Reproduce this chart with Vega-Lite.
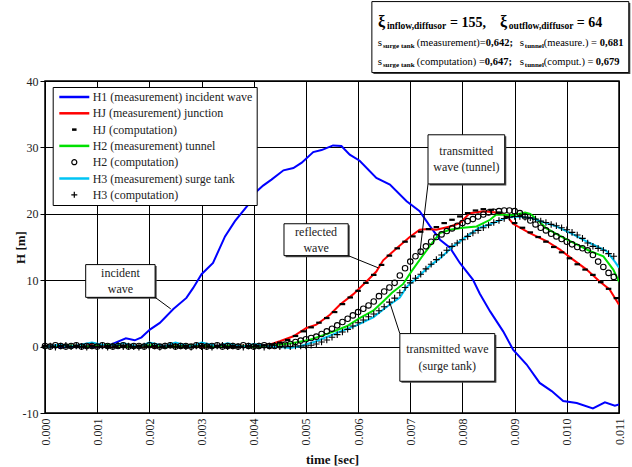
{
"$schema":"https://vega.github.io/schema/vega-lite/v6.json",
"width":574,"height":332,
"autosize":{"type":"none"},
"padding":{"left":45,"top":81,"right":13,"bottom":54},
"background":"white",
"config":{
 "view":{"stroke":"black","strokeWidth":1.5},
 "font":"Liberation Serif",
 "axis":{"labelFont":"Liberation Serif","titleFont":"Liberation Serif","labelColor":"#222","titleColor":"#111","titleFontWeight":"bold","gridColor":"#000","gridOpacity":1,"gridWidth":1,"domain":false,"tickColor":"#000"},
 "text":{"font":"Liberation Serif"}
},
"datasets":{"d":[
{"s":"H1m","t":0,"h":0.1},{"s":"H1m","t":0.0002,"h":-0.1},{"s":"H1m","t":0.0004,"h":0.1},{"s":"H1m","t":0.0006,"h":0},{"s":"H1m","t":0.0008,"h":0.1},{"s":"H1m","t":0.001,"h":0},{"s":"H1m","t":0.0012,"h":0.1},{"s":"H1m","t":0.00134,"h":0.55},{"s":"H1m","t":0.00155,"h":1.25},{"s":"H1m","t":0.00172,"h":0.95},{"s":"H1m","t":0.00185,"h":1.4},{"s":"H1m","t":0.00201,"h":2.56},{"s":"H1m","t":0.0022,"h":3.57},{"s":"H1m","t":0.00246,"h":5.67},{"s":"H1m","t":0.00271,"h":7.33},{"s":"H1m","t":0.00284,"h":8.84},{"s":"H1m","t":0.003,"h":10.9},{"s":"H1m","t":0.00322,"h":12.6},{"s":"H1m","t":0.00345,"h":16.6},{"s":"H1m","t":0.00364,"h":18.9},{"s":"H1m","t":0.0039,"h":21.4},{"s":"H1m","t":0.00406,"h":23.4},{"s":"H1m","t":0.00418,"h":24.25},{"s":"H1m","t":0.00434,"h":25.15},{"s":"H1m","t":0.00457,"h":26.55},{"s":"H1m","t":0.00476,"h":26.9},{"s":"H1m","t":0.00492,"h":27.7},{"s":"H1m","t":0.00514,"h":29.3},{"s":"H1m","t":0.0053,"h":29.6},{"s":"H1m","t":0.00552,"h":30.3},{"s":"H1m","t":0.00568,"h":30.2},{"s":"H1m","t":0.00584,"h":28.9},{"s":"H1m","t":0.00603,"h":28.0},{"s":"H1m","t":0.00635,"h":25.4},{"s":"H1m","t":0.00661,"h":24.4},{"s":"H1m","t":0.00693,"h":21.9},{"s":"H1m","t":0.00718,"h":20.4},{"s":"H1m","t":0.00738,"h":18.1},{"s":"H1m","t":0.00757,"h":16.1},{"s":"H1m","t":0.00776,"h":14.9},{"s":"H1m","t":0.00795,"h":12.6},{"s":"H1m","t":0.0082,"h":10.1},{"s":"H1m","t":0.00833,"h":8.0},{"s":"H1m","t":0.00853,"h":5.3},{"s":"H1m","t":0.00878,"h":2.3},{"s":"H1m","t":0.00897,"h":-0.45},{"s":"H1m","t":0.00923,"h":-2.7},{"s":"H1m","t":0.00948,"h":-5.47},{"s":"H1m","t":0.00971,"h":-6.7},{"s":"H1m","t":0.00993,"h":-8.2},{"s":"H1m","t":0.01019,"h":-8.5},{"s":"H1m","t":0.0105,"h":-9.3},{"s":"H1m","t":0.01073,"h":-8.4},{"s":"H1m","t":0.01092,"h":-8.9},{"s":"H1m","t":0.011,"h":-8.7},
{"s":"HJm","t":0,"h":0},{"s":"HJm","t":0.0003,"h":0.3},{"s":"HJm","t":0.0005,"h":0.1},{"s":"HJm","t":0.0008,"h":0.4},{"s":"HJm","t":0.001,"h":0},{"s":"HJm","t":0.0015,"h":0.2},{"s":"HJm","t":0.002,"h":0},{"s":"HJm","t":0.0025,"h":0.2},{"s":"HJm","t":0.003,"h":0},{"s":"HJm","t":0.0035,"h":0.2},{"s":"HJm","t":0.004,"h":0.1},{"s":"HJm","t":0.0043,"h":0.3},{"s":"HJm","t":0.0045,"h":0.8},{"s":"HJm","t":0.00476,"h":1.55},{"s":"HJm","t":0.00501,"h":2.8},{"s":"HJm","t":0.0052,"h":3.3},{"s":"HJm","t":0.00546,"h":4.8},{"s":"HJm","t":0.00565,"h":6.3},{"s":"HJm","t":0.00591,"h":7.9},{"s":"HJm","t":0.00616,"h":9.8},{"s":"HJm","t":0.00635,"h":11.3},{"s":"HJm","t":0.00648,"h":13.0},{"s":"HJm","t":0.00674,"h":14.8},{"s":"HJm","t":0.00699,"h":16.5},{"s":"HJm","t":0.00718,"h":17.6},{"s":"HJm","t":0.00734,"h":17.7},{"s":"HJm","t":0.0075,"h":17.6},{"s":"HJm","t":0.00776,"h":18.1},{"s":"HJm","t":0.00795,"h":18.6},{"s":"HJm","t":0.00814,"h":20.1},{"s":"HJm","t":0.0084,"h":20.4},{"s":"HJm","t":0.00865,"h":20.2},{"s":"HJm","t":0.00884,"h":19.8},{"s":"HJm","t":0.00897,"h":18.5},{"s":"HJm","t":0.00929,"h":17.1},{"s":"HJm","t":0.00961,"h":15.9},{"s":"HJm","t":0.00987,"h":14.6},{"s":"HJm","t":0.01012,"h":13.1},{"s":"HJm","t":0.01038,"h":11.6},{"s":"HJm","t":0.01063,"h":9.8},{"s":"HJm","t":0.01082,"h":8.6},{"s":"HJm","t":0.011,"h":6.3},
{"s":"H2m","t":0,"h":0},{"s":"H2m","t":0.0004,"h":0.2},{"s":"H2m","t":0.0008,"h":0},{"s":"H2m","t":0.0012,"h":0.3},{"s":"H2m","t":0.0016,"h":0},{"s":"H2m","t":0.002,"h":0.2},{"s":"H2m","t":0.0024,"h":0},{"s":"H2m","t":0.0028,"h":0.2},{"s":"H2m","t":0.0032,"h":0},{"s":"H2m","t":0.0036,"h":0.2},{"s":"H2m","t":0.004,"h":0},{"s":"H2m","t":0.0044,"h":0.2},{"s":"H2m","t":0.00476,"h":0.55},{"s":"H2m","t":0.00508,"h":1.05},{"s":"H2m","t":0.00546,"h":2.06},{"s":"H2m","t":0.00578,"h":3.06},{"s":"H2m","t":0.00603,"h":4.3},{"s":"H2m","t":0.00629,"h":5.4},{"s":"H2m","t":0.00648,"h":6.8},{"s":"H2m","t":0.00665,"h":8.1},{"s":"H2m","t":0.00686,"h":9.4},{"s":"H2m","t":0.00703,"h":11.4},{"s":"H2m","t":0.00722,"h":13.5},{"s":"H2m","t":0.00738,"h":15.2},{"s":"H2m","t":0.00757,"h":17.1},{"s":"H2m","t":0.00776,"h":17.6},{"s":"H2m","t":0.00801,"h":17.9},{"s":"H2m","t":0.00827,"h":18.1},{"s":"H2m","t":0.00853,"h":19.1},{"s":"H2m","t":0.00865,"h":19.9},{"s":"H2m","t":0.00897,"h":19.8},{"s":"H2m","t":0.0092,"h":20.2},{"s":"H2m","t":0.0093,"h":20.0},{"s":"H2m","t":0.0095,"h":18.6},{"s":"H2m","t":0.00961,"h":17.8},{"s":"H2m","t":0.00993,"h":16.4},{"s":"H2m","t":0.01019,"h":15.4},{"s":"H2m","t":0.01044,"h":14.4},{"s":"H2m","t":0.0107,"h":13.6},{"s":"H2m","t":0.01089,"h":11.6},{"s":"H2m","t":0.011,"h":9.8},
{"s":"H3m","t":0,"h":0},{"s":"H3m","t":0.0003,"h":0.3},{"s":"H3m","t":0.0005,"h":0},{"s":"H3m","t":0.0009,"h":0.6},{"s":"H3m","t":0.0012,"h":0.1},{"s":"H3m","t":0.0015,"h":0.5},{"s":"H3m","t":0.0018,"h":0},{"s":"H3m","t":0.002,"h":0.6},{"s":"H3m","t":0.0023,"h":0.1},{"s":"H3m","t":0.0025,"h":0.6},{"s":"H3m","t":0.0028,"h":0},{"s":"H3m","t":0.003,"h":0.6},{"s":"H3m","t":0.0033,"h":0.1},{"s":"H3m","t":0.0035,"h":0.5},{"s":"H3m","t":0.0038,"h":0},{"s":"H3m","t":0.004,"h":0.4},{"s":"H3m","t":0.0043,"h":0.1},{"s":"H3m","t":0.0047,"h":-0.2},{"s":"H3m","t":0.0049,"h":0.1},{"s":"H3m","t":0.0052,"h":0.8},{"s":"H3m","t":0.00559,"h":2.06},{"s":"H3m","t":0.00597,"h":3.2},{"s":"H3m","t":0.00629,"h":4.4},{"s":"H3m","t":0.00655,"h":6.0},{"s":"H3m","t":0.0068,"h":7.4},{"s":"H3m","t":0.00693,"h":9.0},{"s":"H3m","t":0.00712,"h":10.3},{"s":"H3m","t":0.00738,"h":12.2},{"s":"H3m","t":0.0076,"h":13.5},{"s":"H3m","t":0.00782,"h":15.1},{"s":"H3m","t":0.00808,"h":16.6},{"s":"H3m","t":0.00833,"h":17.9},{"s":"H3m","t":0.00859,"h":18.6},{"s":"H3m","t":0.00884,"h":19.4},{"s":"H3m","t":0.0091,"h":19.6},{"s":"H3m","t":0.00935,"h":19.3},{"s":"H3m","t":0.0096,"h":18.6},{"s":"H3m","t":0.0098,"h":18.1},{"s":"H3m","t":0.01012,"h":16.9},{"s":"H3m","t":0.01044,"h":15.6},{"s":"H3m","t":0.01076,"h":14.4},{"s":"H3m","t":0.01092,"h":12.8},{"s":"H3m","t":0.011,"h":11.9},
{"s":"HJc","t":0,"h":0.1},{"s":"HJc","t":0.00015,"h":0},{"s":"HJc","t":0.0003,"h":0.1},{"s":"HJc","t":0.00045,"h":0},{"s":"HJc","t":0.0006,"h":0.1},{"s":"HJc","t":0.00075,"h":0},{"s":"HJc","t":0.0009,"h":0.1},{"s":"HJc","t":0.00105,"h":0},{"s":"HJc","t":0.0012,"h":0.1},{"s":"HJc","t":0.00135,"h":0},{"s":"HJc","t":0.0015,"h":0.1},{"s":"HJc","t":0.00165,"h":0},{"s":"HJc","t":0.0018,"h":0.1},{"s":"HJc","t":0.00195,"h":0},{"s":"HJc","t":0.0021,"h":0.1},{"s":"HJc","t":0.00225,"h":0},{"s":"HJc","t":0.0024,"h":0.1},{"s":"HJc","t":0.00255,"h":0},{"s":"HJc","t":0.0027,"h":0.1},{"s":"HJc","t":0.00285,"h":0},{"s":"HJc","t":0.003,"h":0.1},{"s":"HJc","t":0.00315,"h":0},{"s":"HJc","t":0.0033,"h":0.1},{"s":"HJc","t":0.00345,"h":0},{"s":"HJc","t":0.0036,"h":0.1},{"s":"HJc","t":0.00375,"h":0},{"s":"HJc","t":0.0039,"h":0.1},{"s":"HJc","t":0.00405,"h":0.1},{"s":"HJc","t":0.0042,"h":0.2},{"s":"HJc","t":0.00435,"h":0.3},{"s":"HJc","t":0.0045,"h":0.6},{"s":"HJc","t":0.00465,"h":1.0},{"s":"HJc","t":0.0048,"h":1.6},{"s":"HJc","t":0.00495,"h":2.3},{"s":"HJc","t":0.0051,"h":2.9},{"s":"HJc","t":0.00525,"h":3.6},{"s":"HJc","t":0.0054,"h":4.3},{"s":"HJc","t":0.00555,"h":5.2},{"s":"HJc","t":0.0057,"h":6.4},{"s":"HJc","t":0.00585,"h":7.4},{"s":"HJc","t":0.006,"h":8.4},{"s":"HJc","t":0.00615,"h":9.6},{"s":"HJc","t":0.0063,"h":10.8},{"s":"HJc","t":0.00645,"h":12.3},{"s":"HJc","t":0.0066,"h":13.7},{"s":"HJc","t":0.00675,"h":14.8},{"s":"HJc","t":0.0069,"h":15.8},{"s":"HJc","t":0.00705,"h":16.6},{"s":"HJc","t":0.0072,"h":17.3},{"s":"HJc","t":0.00735,"h":17.7},{"s":"HJc","t":0.0075,"h":18.0},{"s":"HJc","t":0.00765,"h":18.6},{"s":"HJc","t":0.0078,"h":19.1},{"s":"HJc","t":0.00795,"h":19.6},{"s":"HJc","t":0.0081,"h":20.1},{"s":"HJc","t":0.00825,"h":20.5},{"s":"HJc","t":0.0084,"h":20.7},{"s":"HJc","t":0.00855,"h":20.6},{"s":"HJc","t":0.0087,"h":20.2},{"s":"HJc","t":0.00885,"h":19.5},{"s":"HJc","t":0.009,"h":18.6},{"s":"HJc","t":0.00915,"h":17.9},{"s":"HJc","t":0.0093,"h":17.2},{"s":"HJc","t":0.00945,"h":16.5},{"s":"HJc","t":0.0096,"h":15.8},{"s":"HJc","t":0.00975,"h":15.0},{"s":"HJc","t":0.0099,"h":14.2},{"s":"HJc","t":0.01005,"h":13.3},{"s":"HJc","t":0.0102,"h":12.4},{"s":"HJc","t":0.01035,"h":11.6},{"s":"HJc","t":0.0105,"h":10.8},{"s":"HJc","t":0.01065,"h":9.7},{"s":"HJc","t":0.0108,"h":8.7},{"s":"HJc","t":0.01095,"h":7.3},
{"s":"H2c","t":0,"h":0.1},{"s":"H2c","t":0.0001,"h":0},{"s":"H2c","t":0.0002,"h":0.2},{"s":"H2c","t":0.0003,"h":0.1},{"s":"H2c","t":0.0004,"h":0},{"s":"H2c","t":0.0005,"h":0.1},{"s":"H2c","t":0.0006,"h":0.2},{"s":"H2c","t":0.0007,"h":0},{"s":"H2c","t":0.0008,"h":0.1},{"s":"H2c","t":0.0009,"h":0.1},{"s":"H2c","t":0.001,"h":0},{"s":"H2c","t":0.0011,"h":0.2},{"s":"H2c","t":0.0012,"h":0.1},{"s":"H2c","t":0.0013,"h":0},{"s":"H2c","t":0.0014,"h":0.1},{"s":"H2c","t":0.0015,"h":0.2},{"s":"H2c","t":0.0016,"h":0},{"s":"H2c","t":0.0017,"h":0.1},{"s":"H2c","t":0.0018,"h":0.1},{"s":"H2c","t":0.0019,"h":0},{"s":"H2c","t":0.002,"h":0.2},{"s":"H2c","t":0.0021,"h":0.1},{"s":"H2c","t":0.0022,"h":0},{"s":"H2c","t":0.0023,"h":0.1},{"s":"H2c","t":0.0024,"h":0.2},{"s":"H2c","t":0.0025,"h":0},{"s":"H2c","t":0.0026,"h":0.1},{"s":"H2c","t":0.0027,"h":0.1},{"s":"H2c","t":0.0028,"h":0},{"s":"H2c","t":0.0029,"h":0.2},{"s":"H2c","t":0.003,"h":0.1},{"s":"H2c","t":0.0031,"h":0},{"s":"H2c","t":0.0032,"h":0.1},{"s":"H2c","t":0.0033,"h":0.2},{"s":"H2c","t":0.0034,"h":0},{"s":"H2c","t":0.0035,"h":0.1},{"s":"H2c","t":0.0036,"h":0.1},{"s":"H2c","t":0.0037,"h":0},{"s":"H2c","t":0.0038,"h":0.2},{"s":"H2c","t":0.0039,"h":0.1},{"s":"H2c","t":0.004,"h":0},{"s":"H2c","t":0.0041,"h":0.1},{"s":"H2c","t":0.0042,"h":0.2},{"s":"H2c","t":0.0043,"h":0.1},{"s":"H2c","t":0.0044,"h":0.1},{"s":"H2c","t":0.0045,"h":0.2},{"s":"H2c","t":0.0046,"h":0.3},{"s":"H2c","t":0.0047,"h":0.4},{"s":"H2c","t":0.0048,"h":0.7},{"s":"H2c","t":0.0049,"h":0.9},{"s":"H2c","t":0.005,"h":1.1},{"s":"H2c","t":0.0051,"h":1.3},{"s":"H2c","t":0.0052,"h":1.5},{"s":"H2c","t":0.0053,"h":1.9},{"s":"H2c","t":0.0054,"h":2.3},{"s":"H2c","t":0.0055,"h":2.7},{"s":"H2c","t":0.0056,"h":3.2},{"s":"H2c","t":0.0057,"h":3.7},{"s":"H2c","t":0.0058,"h":4.2},{"s":"H2c","t":0.0059,"h":4.7},{"s":"H2c","t":0.006,"h":5.2},{"s":"H2c","t":0.0061,"h":5.7},{"s":"H2c","t":0.0062,"h":6.2},{"s":"H2c","t":0.0063,"h":6.8},{"s":"H2c","t":0.0064,"h":7.6},{"s":"H2c","t":0.0065,"h":8.3},{"s":"H2c","t":0.0066,"h":8.9},{"s":"H2c","t":0.0067,"h":9.6},{"s":"H2c","t":0.0068,"h":10.7},{"s":"H2c","t":0.0069,"h":11.8},{"s":"H2c","t":0.007,"h":12.8},{"s":"H2c","t":0.0071,"h":13.6},{"s":"H2c","t":0.0072,"h":14.3},{"s":"H2c","t":0.0073,"h":15.1},{"s":"H2c","t":0.0074,"h":15.8},{"s":"H2c","t":0.0075,"h":16.5},{"s":"H2c","t":0.0076,"h":16.9},{"s":"H2c","t":0.0077,"h":17.4},{"s":"H2c","t":0.0078,"h":17.8},{"s":"H2c","t":0.0079,"h":18.2},{"s":"H2c","t":0.008,"h":18.6},{"s":"H2c","t":0.0081,"h":18.9},{"s":"H2c","t":0.0082,"h":19.2},{"s":"H2c","t":0.0083,"h":19.6},{"s":"H2c","t":0.0084,"h":19.9},{"s":"H2c","t":0.0085,"h":20.2},{"s":"H2c","t":0.0086,"h":20.3},{"s":"H2c","t":0.0087,"h":20.4},{"s":"H2c","t":0.0088,"h":20.5},{"s":"H2c","t":0.0089,"h":20.5},{"s":"H2c","t":0.009,"h":20.4},{"s":"H2c","t":0.0091,"h":20.1},{"s":"H2c","t":0.0092,"h":19.6},{"s":"H2c","t":0.0093,"h":19.0},{"s":"H2c","t":0.0094,"h":18.4},{"s":"H2c","t":0.0095,"h":17.9},{"s":"H2c","t":0.0096,"h":17.5},{"s":"H2c","t":0.0097,"h":17.0},{"s":"H2c","t":0.0098,"h":16.6},{"s":"H2c","t":0.0099,"h":16.2},{"s":"H2c","t":0.01,"h":15.8},{"s":"H2c","t":0.0101,"h":15.4},{"s":"H2c","t":0.0102,"h":15.0},{"s":"H2c","t":0.0103,"h":14.8},{"s":"H2c","t":0.0104,"h":14.5},{"s":"H2c","t":0.0105,"h":13.8},{"s":"H2c","t":0.0106,"h":12.8},{"s":"H2c","t":0.0107,"h":12.0},{"s":"H2c","t":0.0108,"h":11.1},{"s":"H2c","t":0.0109,"h":10.5},
{"s":"H3c","t":0,"h":0},{"s":"H3c","t":0.0001,"h":0.1},{"s":"H3c","t":0.0002,"h":-0.1},{"s":"H3c","t":0.0003,"h":0.1},{"s":"H3c","t":0.0004,"h":0.2},{"s":"H3c","t":0.0005,"h":0},{"s":"H3c","t":0.0006,"h":0.1},{"s":"H3c","t":0.0007,"h":0},{"s":"H3c","t":0.0008,"h":-0.1},{"s":"H3c","t":0.0009,"h":0.1},{"s":"H3c","t":0.001,"h":0},{"s":"H3c","t":0.0011,"h":0.1},{"s":"H3c","t":0.0012,"h":-0.1},{"s":"H3c","t":0.0013,"h":0.1},{"s":"H3c","t":0.0014,"h":0.2},{"s":"H3c","t":0.0015,"h":0},{"s":"H3c","t":0.0016,"h":0.1},{"s":"H3c","t":0.0017,"h":0},{"s":"H3c","t":0.0018,"h":-0.1},{"s":"H3c","t":0.0019,"h":0.1},{"s":"H3c","t":0.002,"h":0},{"s":"H3c","t":0.0021,"h":0.1},{"s":"H3c","t":0.0022,"h":-0.1},{"s":"H3c","t":0.0023,"h":0.1},{"s":"H3c","t":0.0024,"h":0.2},{"s":"H3c","t":0.0025,"h":0},{"s":"H3c","t":0.0026,"h":0.1},{"s":"H3c","t":0.0027,"h":0},{"s":"H3c","t":0.0028,"h":-0.1},{"s":"H3c","t":0.0029,"h":0.1},{"s":"H3c","t":0.003,"h":0},{"s":"H3c","t":0.0031,"h":0.1},{"s":"H3c","t":0.0032,"h":-0.1},{"s":"H3c","t":0.0033,"h":0.1},{"s":"H3c","t":0.0034,"h":0.2},{"s":"H3c","t":0.0035,"h":0},{"s":"H3c","t":0.0036,"h":0.1},{"s":"H3c","t":0.0037,"h":0},{"s":"H3c","t":0.0038,"h":-0.1},{"s":"H3c","t":0.0039,"h":0.1},{"s":"H3c","t":0.004,"h":0},{"s":"H3c","t":0.0041,"h":0.1},{"s":"H3c","t":0.0042,"h":-0.1},{"s":"H3c","t":0.0043,"h":0.1},{"s":"H3c","t":0.0044,"h":0.2},{"s":"H3c","t":0.0045,"h":0},{"s":"H3c","t":0.0046,"h":0.1},{"s":"H3c","t":0.0047,"h":0},{"s":"H3c","t":0.0048,"h":0.1},{"s":"H3c","t":0.0049,"h":0.1},{"s":"H3c","t":0.005,"h":0.1},{"s":"H3c","t":0.0051,"h":0.2},{"s":"H3c","t":0.0052,"h":0.4},{"s":"H3c","t":0.0053,"h":0.7},{"s":"H3c","t":0.0054,"h":1.0},{"s":"H3c","t":0.0055,"h":1.4},{"s":"H3c","t":0.0056,"h":1.8},{"s":"H3c","t":0.0057,"h":2.2},{"s":"H3c","t":0.0058,"h":2.6},{"s":"H3c","t":0.0059,"h":3.1},{"s":"H3c","t":0.006,"h":3.6},{"s":"H3c","t":0.0061,"h":4.0},{"s":"H3c","t":0.0062,"h":4.5},{"s":"H3c","t":0.0063,"h":4.9},{"s":"H3c","t":0.0064,"h":5.4},{"s":"H3c","t":0.0065,"h":6.0},{"s":"H3c","t":0.0066,"h":6.7},{"s":"H3c","t":0.0067,"h":7.3},{"s":"H3c","t":0.0068,"h":8.1},{"s":"H3c","t":0.0069,"h":8.9},{"s":"H3c","t":0.007,"h":9.6},{"s":"H3c","t":0.0071,"h":10.3},{"s":"H3c","t":0.0072,"h":10.9},{"s":"H3c","t":0.0073,"h":11.7},{"s":"H3c","t":0.0074,"h":12.4},{"s":"H3c","t":0.0075,"h":13.1},{"s":"H3c","t":0.0076,"h":13.8},{"s":"H3c","t":0.0077,"h":14.5},{"s":"H3c","t":0.0078,"h":15.1},{"s":"H3c","t":0.0079,"h":15.6},{"s":"H3c","t":0.008,"h":16.1},{"s":"H3c","t":0.0081,"h":16.6},{"s":"H3c","t":0.0082,"h":17.1},{"s":"H3c","t":0.0083,"h":17.5},{"s":"H3c","t":0.0084,"h":17.9},{"s":"H3c","t":0.0085,"h":18.3},{"s":"H3c","t":0.0086,"h":18.7},{"s":"H3c","t":0.0087,"h":19.0},{"s":"H3c","t":0.0088,"h":19.3},{"s":"H3c","t":0.0089,"h":19.5},{"s":"H3c","t":0.009,"h":19.6},{"s":"H3c","t":0.0091,"h":19.6},{"s":"H3c","t":0.0092,"h":19.5},{"s":"H3c","t":0.0093,"h":19.4},{"s":"H3c","t":0.0094,"h":19.2},{"s":"H3c","t":0.0095,"h":18.9},{"s":"H3c","t":0.0096,"h":18.7},{"s":"H3c","t":0.0097,"h":18.4},{"s":"H3c","t":0.0098,"h":18.2},{"s":"H3c","t":0.0099,"h":17.9},{"s":"H3c","t":0.01,"h":17.6},{"s":"H3c","t":0.0101,"h":17.2},{"s":"H3c","t":0.0102,"h":16.8},{"s":"H3c","t":0.0103,"h":16.3},{"s":"H3c","t":0.0104,"h":15.6},{"s":"H3c","t":0.0105,"h":15.1},{"s":"H3c","t":0.0106,"h":14.8},{"s":"H3c","t":0.0107,"h":14.5},{"s":"H3c","t":0.0108,"h":14.0},{"s":"H3c","t":0.0109,"h":13.6}
]},
"layer":[
{"data":{"name":"d"},
 "transform":[{"filter":{"field":"s","oneOf":["H1m","HJm","H2m","H3m"]}}],
 "mark":{"type":"line","strokeWidth":2,"clip":true},
 "encoding":{
  "x":{"field":"t","type":"quantitative","scale":{"domain":[0,0.011],"nice":false,"zero":false},
   "axis":{"title":"time [sec]","values":[0,0.0005,0.001,0.0015,0.002,0.0025,0.003,0.0035,0.004,0.0045,0.005,0.0055,0.006,0.0065,0.007,0.0075,0.008,0.0085,0.009,0.0095,0.01,0.0105,0.011],"labelExpr":"round(datum.value*10000)%10==0?format(datum.value,'.3f'):''","labelAngle":270,"labelAlign":"right","labelBaseline":"middle","labelPadding":5,"ticks":false,"grid":true,"labelFontSize":12,"titleFontSize":13,"labelOverlap":false,"labelBound":false,"labelFlush":false,"titleY":46,"titleBaseline":"middle"}},
  "y":{"field":"h","type":"quantitative","scale":{"domain":[-10,40],"nice":false,"zero":false},
   "axis":{"title":"H [m]","values":[-10,-5,0,5,10,15,20,25,30,35,40],"labelExpr":"datum.value%10==0?''+datum.value:''","tickSize":5,"labelPadding":2,"grid":true,"labelFontSize":12,"titleFontSize":13,"labelOverlap":false,"labelFlush":false,"titleX":-25,"titleY":166,"titleAngle":270,"titleAlign":"center","titleBaseline":"middle",
    "encode":{"ticks":{"update":{"opacity":{"signal":"datum.value%10==0?1:0"}}}}}},
  "color":{"field":"s","type":"nominal",
   "scale":{"domain":["H1m","HJm","HJc","H2m","H2c","H3m","H3c"],"range":["#0000ff","#ff0000","#000000","#00e000","#000000","#00c4f4","#000000"]},
   "legend":{"title":null,"orient":"none","legendX":7.7,"legendY":6,"labelExpr":"datum.value=='H1m'?'H1 (measurement) incident wave':datum.value=='HJm'?'HJ (measurement) junction':datum.value=='HJc'?'HJ (computation)':datum.value=='H2m'?'H2 (measurement) tunnel':datum.value=='H2c'?'H2 (computation)':datum.value=='H3m'?'H3 (measurement) surge tank':'H3 (computation)'","labelFont":"Liberation Serif","labelFontSize":12,"labelColor":"#222","symbolSize":100,"symbolOffset":11.6,"labelOffset":12.4,"rowPadding":4.3,"padding":4,"fillColor":"white","strokeColor":"black",
    "encode":{"symbols":{"update":{"fill":{"value":"transparent"},"opacity":{"value":1},"size":{"value":100},"strokeWidth":{"signal":"datum.value=='H2c'||datum.value=='H3c'?1.2:2.5"}}}}}}
 }},
{"data":{"name":"d"},
 "transform":[{"filter":{"field":"s","oneOf":["HJc"]}}],
 "mark":{"type":"point","filled":false,"size":150,"strokeWidth":2.2,"opacity":1},
 "encoding":{
  "x":{"field":"t","type":"quantitative"},
  "y":{"field":"h","type":"quantitative"},
  "color":{"field":"s","type":"nominal","legend":{"title":null,"orient":"none","legendX":7.7,"legendY":6,"labelExpr":"datum.value=='H1m'?'H1 (measurement) incident wave':datum.value=='HJm'?'HJ (measurement) junction':datum.value=='HJc'?'HJ (computation)':datum.value=='H2m'?'H2 (measurement) tunnel':datum.value=='H2c'?'H2 (computation)':datum.value=='H3m'?'H3 (measurement) surge tank':'H3 (computation)'","labelFont":"Liberation Serif","labelFontSize":12,"labelColor":"#222","symbolSize":100,"symbolOffset":11.6,"labelOffset":12.4,"rowPadding":4.3,"padding":4,"fillColor":"white","strokeColor":"black",
    "encode":{"symbols":{"update":{"fill":{"value":"transparent"},"opacity":{"value":1},"size":{"value":100},"strokeWidth":{"signal":"datum.value=='H2c'||datum.value=='H3c'?1.2:2.5"}}}}}},
  "shape":{"field":"s","type":"nominal",
   "scale":{"domain":["H1m","HJm","HJc","H2m","H2c","H3m","H3c"],"range":["M-3,0H3","M-3,0H3","M-0.45,0H0.45","M-3,0H3","M-0.5,0A0.5,0.5,0,1,0,0.5,0A0.5,0.5,0,1,0,-0.5,0","M-3,0H3","M-0.6,0H0.6M0,-0.6V0.6"]},
   "legend":{"title":null,"orient":"none","legendX":7.7,"legendY":6,"labelExpr":"datum.value=='H1m'?'H1 (measurement) incident wave':datum.value=='HJm'?'HJ (measurement) junction':datum.value=='HJc'?'HJ (computation)':datum.value=='H2m'?'H2 (measurement) tunnel':datum.value=='H2c'?'H2 (computation)':datum.value=='H3m'?'H3 (measurement) surge tank':'H3 (computation)'","labelFont":"Liberation Serif","labelFontSize":12,"labelColor":"#222","symbolSize":100,"symbolOffset":11.6,"labelOffset":12.4,"rowPadding":4.3,"padding":4,"fillColor":"white","strokeColor":"black",
    "encode":{"symbols":{"update":{"fill":{"value":"transparent"},"opacity":{"value":1},"size":{"value":100},"strokeWidth":{"signal":"datum.value=='H2c'||datum.value=='H3c'?1.2:2.5"}}}}}}
 }},
{"data":{"name":"d"},
 "transform":[{"filter":{"field":"s","oneOf":["H2c","H3c"]}}],
 "mark":{"type":"point","filled":false,"size":120,"strokeWidth":1.1,"opacity":1},
 "encoding":{
  "x":{"field":"t","type":"quantitative"},
  "y":{"field":"h","type":"quantitative"},
  "color":{"field":"s","type":"nominal","legend":{"title":null,"orient":"none","legendX":7.7,"legendY":6,"labelExpr":"datum.value=='H1m'?'H1 (measurement) incident wave':datum.value=='HJm'?'HJ (measurement) junction':datum.value=='HJc'?'HJ (computation)':datum.value=='H2m'?'H2 (measurement) tunnel':datum.value=='H2c'?'H2 (computation)':datum.value=='H3m'?'H3 (measurement) surge tank':'H3 (computation)'","labelFont":"Liberation Serif","labelFontSize":12,"labelColor":"#222","symbolSize":100,"symbolOffset":11.6,"labelOffset":12.4,"rowPadding":4.3,"padding":4,"fillColor":"white","strokeColor":"black",
    "encode":{"symbols":{"update":{"fill":{"value":"transparent"},"opacity":{"value":1},"size":{"value":100},"strokeWidth":{"signal":"datum.value=='H2c'||datum.value=='H3c'?1.2:2.5"}}}}}},
  "shape":{"field":"s","type":"nominal","legend":{"title":null,"orient":"none","legendX":7.7,"legendY":6,"labelExpr":"datum.value=='H1m'?'H1 (measurement) incident wave':datum.value=='HJm'?'HJ (measurement) junction':datum.value=='HJc'?'HJ (computation)':datum.value=='H2m'?'H2 (measurement) tunnel':datum.value=='H2c'?'H2 (computation)':datum.value=='H3m'?'H3 (measurement) surge tank':'H3 (computation)'","labelFont":"Liberation Serif","labelFontSize":12,"labelColor":"#222","symbolSize":100,"symbolOffset":11.6,"labelOffset":12.4,"rowPadding":4.3,"padding":4,"fillColor":"white","strokeColor":"black",
    "encode":{"symbols":{"update":{"fill":{"value":"transparent"},"opacity":{"value":1},"size":{"value":100},"strokeWidth":{"signal":"datum.value=='H2c'||datum.value=='H3c'?1.2:2.5"}}}}}}
 }},
{"data":{"values":[{}]},"mark":{"type":"rect","fill":"#444"},"encoding":{"x":{"datum":0.00081,"type":"quantitative"},"x2":{"datum":0.00214},"y":{"datum":7.2,"type":"quantitative"},"y2":{"datum":12.12}}},
{"data":{"values":[{}]},"mark":{"type":"rect","fill":"white","stroke":"black","strokeWidth":1},"encoding":{"x":{"datum":0.00078,"type":"quantitative"},"x2":{"datum":0.00211},"y":{"datum":7.42,"type":"quantitative"},"y2":{"datum":12.35}}},
{"data":{"values":[{}]},"mark":{"type":"text","align":"center","baseline":"middle","fontSize":12,"lineHeight":16.5,"color":"#222"},"encoding":{"x":{"datum":0.001445,"type":"quantitative"},"y":{"datum":11.1,"type":"quantitative"},"text":{"value":["incident","wave"]}}},
{"data":{"values":[{}]},"mark":{"type":"rule","color":"black","strokeWidth":1},"encoding":{"x":{"datum":0.00211,"type":"quantitative"},"y":{"datum":7.42,"type":"quantitative"},"x2":{"datum":0.00241},"y2":{"datum":5.68}}},
{"data":{"values":[{}]},"mark":{"type":"rect","fill":"#444"},"encoding":{"x":{"datum":0.00461,"type":"quantitative"},"x2":{"datum":0.00584},"y":{"datum":13.47,"type":"quantitative"},"y2":{"datum":18.27}}},
{"data":{"values":[{}]},"mark":{"type":"rect","fill":"white","stroke":"black","strokeWidth":1},"encoding":{"x":{"datum":0.00458,"type":"quantitative"},"x2":{"datum":0.00581},"y":{"datum":13.7,"type":"quantitative"},"y2":{"datum":18.5}}},
{"data":{"values":[{}]},"mark":{"type":"text","align":"center","baseline":"middle","fontSize":12,"lineHeight":16,"color":"#222"},"encoding":{"x":{"datum":0.005195,"type":"quantitative"},"y":{"datum":17.3,"type":"quantitative"},"text":{"value":["reflected","wave"]}}},
{"data":{"values":[{}]},"mark":{"type":"rule","color":"black","strokeWidth":1},"encoding":{"x":{"datum":0.00581,"type":"quantitative"},"y":{"datum":13.7,"type":"quantitative"},"x2":{"datum":0.00639},"y2":{"datum":11.85}}},
{"data":{"values":[{}]},"mark":{"type":"rect","fill":"#444"},"encoding":{"x":{"datum":0.00737,"type":"quantitative"},"x2":{"datum":0.00884},"y":{"datum":24.27,"type":"quantitative"},"y2":{"datum":31.67}}},
{"data":{"values":[{}]},"mark":{"type":"rect","fill":"white","stroke":"black","strokeWidth":1},"encoding":{"x":{"datum":0.00734,"type":"quantitative"},"x2":{"datum":0.00881},"y":{"datum":24.5,"type":"quantitative"},"y2":{"datum":31.9}}},
{"data":{"values":[{}]},"mark":{"type":"text","align":"center","baseline":"middle","fontSize":12,"lineHeight":16,"color":"#222"},"encoding":{"x":{"datum":0.008075,"type":"quantitative"},"y":{"datum":29.4,"type":"quantitative"},"text":{"value":["transmitted","wave (tunnel)"]}}},
{"data":{"values":[{}]},"mark":{"type":"rule","color":"black","strokeWidth":1},"encoding":{"x":{"datum":0.00734,"type":"quantitative"},"y":{"datum":24.5,"type":"quantitative"},"x2":{"datum":0.00718},"y2":{"datum":13.86}}},
{"data":{"values":[{}]},"mark":{"type":"rect","fill":"#444"},"encoding":{"x":{"datum":0.00683,"type":"quantitative"},"x2":{"datum":0.00865},"y":{"datum":-5.45,"type":"quantitative"},"y2":{"datum":1.73}}},
{"data":{"values":[{}]},"mark":{"type":"rect","fill":"white","stroke":"black","strokeWidth":1},"encoding":{"x":{"datum":0.0068,"type":"quantitative"},"x2":{"datum":0.00862},"y":{"datum":-5.22,"type":"quantitative"},"y2":{"datum":1.96}}},
{"data":{"values":[{}]},"mark":{"type":"text","align":"center","baseline":"middle","fontSize":12,"lineHeight":16.5,"color":"#222"},"encoding":{"x":{"datum":0.00771,"type":"quantitative"},"y":{"datum":-0.4,"type":"quantitative"},"text":{"value":["transmitted wave","(surge tank)"]}}},
{"data":{"values":[{}]},"mark":{"type":"rule","color":"black","strokeWidth":1},"encoding":{"x":{"datum":0.0068,"type":"quantitative"},"y":{"datum":1.96,"type":"quantitative"},"x2":{"datum":0.00661},"y2":{"datum":6.58}}},
{"data":{"values":[{}]},"mark":{"type":"rect","fill":"#444"},"encoding":{"x":{"datum":0.006293,"type":"quantitative"},"x2":{"datum":0.011217},"y":{"datum":41.04,"type":"quantitative"},"y2":{"datum":51.73}}},
{"data":{"values":[{}]},"mark":{"type":"rect","fill":"white","stroke":"black","strokeWidth":1},"encoding":{"x":{"datum":0.006264,"type":"quantitative"},"x2":{"datum":0.011188},"y":{"datum":41.27,"type":"quantitative"},"y2":{"datum":51.96}}},
{"data":{"values":[{}]},"mark":{"type":"text","align":"left","baseline":"alphabetic","fontSize":16,"fontWeight":"bold","color":"black"},"encoding":{"x":{"datum":0.00638,"type":"quantitative"},"y":{"datum":48.19,"type":"quantitative"},"text":{"value":"ξ"}}},
{"data":{"values":[{}]},"mark":{"type":"text","align":"left","baseline":"alphabetic","fontSize":9.5,"fontWeight":"bold","color":"black"},"encoding":{"x":{"datum":0.006552,"type":"quantitative"},"y":{"datum":47.89,"type":"quantitative"},"text":{"value":"inflow,diffusor"}}},
{"data":{"values":[{}]},"mark":{"type":"text","align":"left","baseline":"alphabetic","fontSize":14,"fontWeight":"bold","color":"black"},"encoding":{"x":{"datum":0.00776,"type":"quantitative"},"y":{"datum":48.19,"type":"quantitative"},"text":{"value":"= 155,"}}},
{"data":{"values":[{}]},"mark":{"type":"text","align":"left","baseline":"alphabetic","fontSize":16,"fontWeight":"bold","color":"black"},"encoding":{"x":{"datum":0.00872,"type":"quantitative"},"y":{"datum":48.19,"type":"quantitative"},"text":{"value":"ξ"}}},
{"data":{"values":[{}]},"mark":{"type":"text","align":"left","baseline":"alphabetic","fontSize":9.5,"fontWeight":"bold","color":"black"},"encoding":{"x":{"datum":0.008889,"type":"quantitative"},"y":{"datum":47.89,"type":"quantitative"},"text":{"value":"outflow,diffusor"}}},
{"data":{"values":[{}]},"mark":{"type":"text","align":"left","baseline":"alphabetic","fontSize":14,"fontWeight":"bold","color":"black"},"encoding":{"x":{"datum":0.010192,"type":"quantitative"},"y":{"datum":48.19,"type":"quantitative"},"text":{"value":"= 64"}}},
{"data":{"values":[{}]},"mark":{"type":"text","align":"left","baseline":"alphabetic","fontSize":11,"color":"black"},"encoding":{"x":{"datum":0.006379,"type":"quantitative"},"y":{"datum":45.33,"type":"quantitative"},"text":{"value":"s"}}},
{"data":{"values":[{}]},"mark":{"type":"text","align":"left","baseline":"alphabetic","fontSize":7,"fontWeight":"bold","color":"black"},"encoding":{"x":{"datum":0.006475,"type":"quantitative"},"y":{"datum":45.03,"type":"quantitative"},"text":{"value":"surge tank"}}},
{"data":{"values":[{}]},"mark":{"type":"text","align":"left","baseline":"alphabetic","fontSize":10.5,"color":"black"},"encoding":{"x":{"datum":0.007126,"type":"quantitative"},"y":{"datum":45.33,"type":"quantitative"},"text":{"value":"(measurement)="}}},
{"data":{"values":[{}]},"mark":{"type":"text","align":"left","baseline":"alphabetic","fontSize":10.5,"fontWeight":"bold","color":"black"},"encoding":{"x":{"datum":0.008448,"type":"quantitative"},"y":{"datum":45.33,"type":"quantitative"},"text":{"value":"0,642;"}}},
{"data":{"values":[{}]},"mark":{"type":"text","align":"left","baseline":"alphabetic","fontSize":11,"color":"black"},"encoding":{"x":{"datum":0.0091,"type":"quantitative"},"y":{"datum":45.33,"type":"quantitative"},"text":{"value":"s"}}},
{"data":{"values":[{}]},"mark":{"type":"text","align":"left","baseline":"alphabetic","fontSize":7,"fontWeight":"bold","color":"black"},"encoding":{"x":{"datum":0.009195,"type":"quantitative"},"y":{"datum":45.03,"type":"quantitative"},"text":{"value":"tunnel"}}},
{"data":{"values":[{}]},"mark":{"type":"text","align":"left","baseline":"alphabetic","fontSize":10.5,"color":"black"},"encoding":{"x":{"datum":0.009559,"type":"quantitative"},"y":{"datum":45.33,"type":"quantitative"},"text":{"value":" (measure.) ="}}},
{"data":{"values":[{}]},"mark":{"type":"text","align":"left","baseline":"alphabetic","fontSize":10.5,"fontWeight":"bold","color":"black"},"encoding":{"x":{"datum":0.010632,"type":"quantitative"},"y":{"datum":45.33,"type":"quantitative"},"text":{"value":"0,681"}}},
{"data":{"values":[{}]},"mark":{"type":"text","align":"left","baseline":"alphabetic","fontSize":11,"color":"black"},"encoding":{"x":{"datum":0.006379,"type":"quantitative"},"y":{"datum":42.47,"type":"quantitative"},"text":{"value":"s"}}},
{"data":{"values":[{}]},"mark":{"type":"text","align":"left","baseline":"alphabetic","fontSize":7,"fontWeight":"bold","color":"black"},"encoding":{"x":{"datum":0.006475,"type":"quantitative"},"y":{"datum":42.17,"type":"quantitative"},"text":{"value":"surge tank"}}},
{"data":{"values":[{}]},"mark":{"type":"text","align":"left","baseline":"alphabetic","fontSize":10.5,"color":"black"},"encoding":{"x":{"datum":0.007126,"type":"quantitative"},"y":{"datum":42.47,"type":"quantitative"},"text":{"value":"(computation) ="}}},
{"data":{"values":[{}]},"mark":{"type":"text","align":"left","baseline":"alphabetic","fontSize":10.5,"fontWeight":"bold","color":"black"},"encoding":{"x":{"datum":0.008429,"type":"quantitative"},"y":{"datum":42.47,"type":"quantitative"},"text":{"value":"0,647;"}}},
{"data":{"values":[{}]},"mark":{"type":"text","align":"left","baseline":"alphabetic","fontSize":11,"color":"black"},"encoding":{"x":{"datum":0.0091,"type":"quantitative"},"y":{"datum":42.47,"type":"quantitative"},"text":{"value":"s"}}},
{"data":{"values":[{}]},"mark":{"type":"text","align":"left","baseline":"alphabetic","fontSize":7,"fontWeight":"bold","color":"black"},"encoding":{"x":{"datum":0.009195,"type":"quantitative"},"y":{"datum":42.17,"type":"quantitative"},"text":{"value":"tunnel"}}},
{"data":{"values":[{}]},"mark":{"type":"text","align":"left","baseline":"alphabetic","fontSize":10.5,"color":"black"},"encoding":{"x":{"datum":0.009559,"type":"quantitative"},"y":{"datum":42.47,"type":"quantitative"},"text":{"value":" (comput.) ="}}},
{"data":{"values":[{}]},"mark":{"type":"text","align":"left","baseline":"alphabetic","fontSize":10.5,"fontWeight":"bold","color":"black"},"encoding":{"x":{"datum":0.010556,"type":"quantitative"},"y":{"datum":42.47,"type":"quantitative"},"text":{"value":"0,679"}}}
]
}
